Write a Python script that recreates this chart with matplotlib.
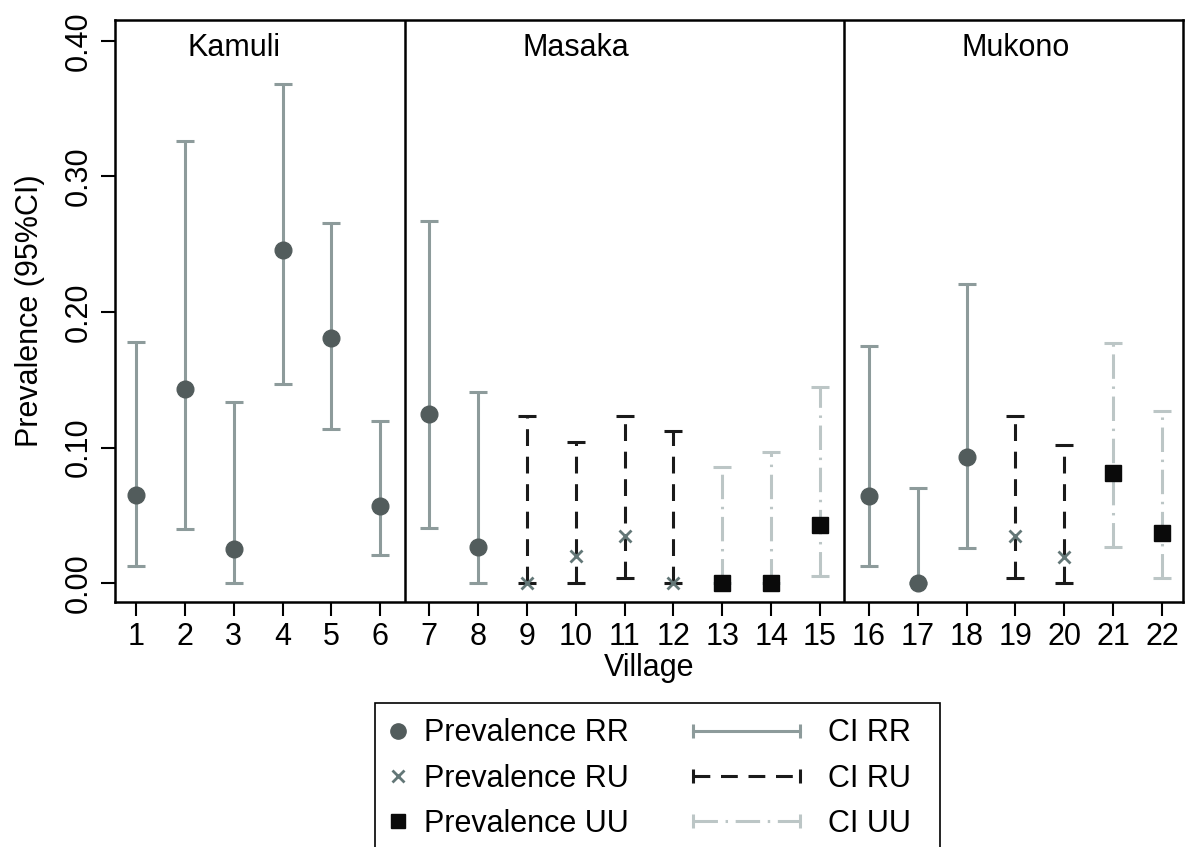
import numpy as np
import matplotlib.pyplot as plt
from matplotlib.lines import Line2D
import matplotlib.patches as patches

plt.rcParams['font.family'] = ['Liberation Sans', 'DejaVu Sans']

# village prevalence and 95% CI, by group
rr_village = [1, 2, 3, 4, 5, 6, 7, 8, 16, 17, 18]
rr_prev = [0.065, 0.143, 0.025, 0.246, 0.181, 0.057, 0.125, 0.027, 0.064, 0.000, 0.093]
rr_lo = [0.013, 0.040, 0.000, 0.147, 0.114, 0.021, 0.041, 0.000, 0.013, 0.000, 0.026]
rr_hi = [0.178, 0.326, 0.134, 0.368, 0.266, 0.120, 0.267, 0.141, 0.175, 0.070, 0.221]

ru_village = [9, 10, 11, 12, 19, 20]
ru_prev = [0.000, 0.020, 0.035, 0.000, 0.035, 0.019]
ru_lo = [0.000, 0.000, 0.004, 0.000, 0.004, 0.000]
ru_hi = [0.123, 0.104, 0.123, 0.112, 0.123, 0.102]

uu_village = [13, 14, 15, 21, 22]
uu_prev = [0.000, 0.000, 0.043, 0.081, 0.037]
uu_lo = [0.000, 0.000, 0.005, 0.027, 0.004]
uu_hi = [0.086, 0.097, 0.145, 0.177, 0.127]

districts = ['Kamuli', 'Masaka', 'Mukono']
district_pos = [3, 10, 19]
dividers = [6.5, 15.5]

c_rr_ci = '#8d9b9b'
c_rr_pt = '#525c5c'
c_ru_ci = '#1a1a1a'
c_ru_pt = '#637777'
c_uu_ci = '#bcc6c6'
c_uu_pt = '#0a0a0a'

ls_ru = (0, (5.5, 3.5))
ls_uu = (0, (8, 2.5, 0.8, 2.5))
FS = 22

fig = plt.figure(figsize=(11.92, 8.47), dpi=100)
ax = fig.add_axes([0.0965, 0.289, 0.896, 0.6875])


def ci(x, p, lo, hi, color, ls):
    p = np.array(p)
    err = [p - np.array(lo), np.array(hi) - p]
    eb = ax.errorbar(x, p, yerr=err, fmt='none', ecolor=color, elinewidth=2.2,
                     capsize=6.5, capthick=2.2, zorder=2)
    eb[2][0].set_linestyle(ls)
    return eb


ci(rr_village, rr_prev, rr_lo, rr_hi, c_rr_ci, '-')
ci(ru_village, ru_prev, ru_lo, ru_hi, c_ru_ci, ls_ru)
ci(uu_village, uu_prev, uu_lo, uu_hi, c_uu_ci, ls_uu)

ax.plot(rr_village, rr_prev, 'o', color=c_rr_pt, ms=12, zorder=3)
ax.plot(ru_village, ru_prev, 'x', color=c_ru_pt, ms=8.5, mew=2, zorder=3)
ax.plot(uu_village, uu_prev, 's', color=c_uu_pt, ms=11, zorder=3)

for d in dividers:
    ax.axvline(d, color='black', lw=1.8, zorder=1)
for name, xp in zip(districts, district_pos):
    ax.text(xp, 0.395, name, ha='center', va='center', fontsize=FS)

ax.set_xlim(0.57, 22.43)
ax.set_ylim(-0.014, 0.4155)
ax.set_xticks(range(1, 23))
ax.set_yticks([0, 0.1, 0.2, 0.3, 0.4])
ax.set_yticklabels(['0.00', '0.10', '0.20', '0.30', '0.40'], rotation=90, va='center')
ax.tick_params(labelsize=FS, length=10, width=1.5, direction='out')
ax.tick_params(axis='y', pad=5)
ax.tick_params(axis='x', pad=4)
for s in ax.spines.values():
    s.set_linewidth(1.8)

ax.set_xlabel('Village', fontsize=FS, labelpad=1)
ax.set_ylabel('Prevalence (95%CI)', fontsize=FS, labelpad=14)

# legend: drawn as two column legends inside one frame
fig.patches.append(patches.Rectangle((375 / 1192, -0.01), 565 / 1192, 0.18,
                                     transform=fig.transFigure, fill=False,
                                     edgecolor='black', lw=1.2))
pts = [Line2D([], [], ls='none', marker='o', color=c_rr_pt, ms=11),
       Line2D([], [], ls='none', marker='x', color=c_ru_pt, ms=8, mew=2),
       Line2D([], [], ls='none', marker='s', color=c_uu_pt, ms=10.5)]
lines = [Line2D([], [], color=c_rr_ci, lw=2.2, ls='-', marker='|', ms=10, mew=2.2),
         Line2D([], [], color=c_ru_ci, lw=2.2, ls=ls_ru, marker='|', ms=10, mew=2.2),
         Line2D([], [], color=c_uu_ci, lw=2.2, ls=ls_uu, marker='|', ms=10, mew=2.2)]
fig.legend(pts, ['Prevalence RR', 'Prevalence RU', 'Prevalence UU'],
           loc='upper left', bbox_to_anchor=(386 / 1192, 0.152), frameon=False,
           fontsize=FS, handlelength=0.8, handletextpad=0.45, labelspacing=0.5,
           numpoints=1, borderaxespad=0, borderpad=0)
fig.legend(lines, ['CI RR', 'CI RU', 'CI UU'],
           loc='upper left', bbox_to_anchor=(684 / 1192, 0.152), frameon=False,
           fontsize=FS, handlelength=4.1, handletextpad=0.6, labelspacing=0.5,
           numpoints=2, borderaxespad=0, borderpad=0)

fig.savefig('out.png', dpi=100)
